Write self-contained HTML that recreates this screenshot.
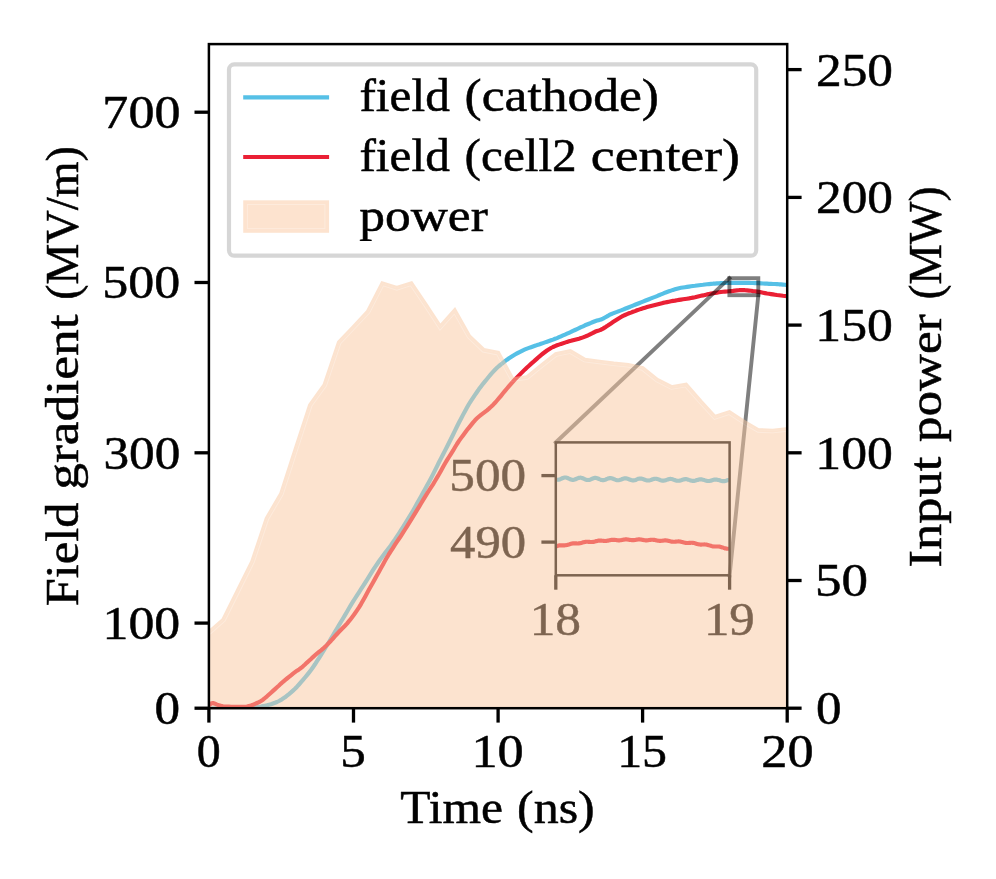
<!DOCTYPE html>
<html><head><meta charset="utf-8"><title>Field gradient and input power</title>
<style>html,body{margin:0;padding:0;background:#fff;}svg{display:block;}</style></head>
<body>
<svg width="996" height="879" viewBox="0 0 996 879" font-family="'Liberation Serif', serif" font-size="46.0" fill="#000">
<rect width="996" height="879" fill="#fff"/>
<defs>
<clipPath id="axclip"><rect x="208.9" y="44.1" width="578.3" height="664.1"/></clipPath>
</defs>
<line x1="194.5" x2="208.9" y1="708.2" y2="708.2" stroke="#000" stroke-width="3.3"/>
<line x1="194.5" x2="208.9" y1="623.1" y2="623.1" stroke="#000" stroke-width="3.3"/>
<line x1="194.5" x2="208.9" y1="452.8" y2="452.8" stroke="#000" stroke-width="3.3"/>
<line x1="194.5" x2="208.9" y1="282.5" y2="282.5" stroke="#000" stroke-width="3.3"/>
<line x1="194.5" x2="208.9" y1="112.2" y2="112.2" stroke="#000" stroke-width="3.3"/>
<line x1="208.9" x2="208.9" y1="708.2" y2="722.6" stroke="#000" stroke-width="3.3"/>
<line x1="353.5" x2="353.5" y1="708.2" y2="722.6" stroke="#000" stroke-width="3.3"/>
<line x1="498.1" x2="498.1" y1="708.2" y2="722.6" stroke="#000" stroke-width="3.3"/>
<line x1="642.6" x2="642.6" y1="708.2" y2="722.6" stroke="#000" stroke-width="3.3"/>
<line x1="787.2" x2="787.2" y1="708.2" y2="722.6" stroke="#000" stroke-width="3.3"/>
<g clip-path="url(#axclip)" fill="none" stroke-linejoin="round" stroke-linecap="butt">
<path d="M209.0,708.6 L211.0,708.6 L213.0,708.6 L215.0,708.6 L217.0,708.6 L219.0,708.6 L221.0,708.6 L223.0,708.6 L225.0,708.6 L227.0,708.6 L229.0,708.6 L231.0,708.6 L233.0,708.6 L235.0,708.5 L237.0,708.5 L239.0,708.4 L241.0,708.3 L243.0,708.2 L245.0,708.1 L247.0,708.0 L249.0,707.9 L251.0,707.7 L253.0,707.6 L255.0,707.3 L257.0,707.1 L259.0,706.8 L261.0,706.5 L263.0,706.1 L265.0,705.7 L267.0,705.3 L269.0,704.7 L271.0,704.2 L273.0,703.5 L275.0,702.8 L277.0,702.0 L279.0,701.0 L281.0,699.9 L283.0,698.6 L285.0,697.3 L287.0,695.7 L289.0,694.1 L291.0,692.4 L293.0,690.6 L295.0,688.8 L297.0,686.7 L299.0,684.5 L301.0,682.2 L303.0,679.9 L305.0,677.5 L307.0,675.1 L309.0,672.6 L311.0,670.0 L313.0,667.2 L315.0,664.3 L317.0,661.2 L319.0,658.1 L321.0,654.8 L323.0,651.6 L325.0,648.3 L327.0,645.2 L329.0,642.0 L331.0,638.7 L333.0,635.3 L335.0,631.9 L337.0,628.5 L339.0,625.2 L341.0,621.8 L343.0,618.5 L345.0,615.1 L347.0,611.7 L349.0,608.3 L351.0,604.9 L353.0,601.7 L355.0,598.5 L357.0,595.4 L359.0,592.3 L361.0,589.2 L363.0,586.1 L365.0,583.0 L367.0,579.8 L369.0,576.6 L371.0,573.4 L373.0,570.2 L375.0,567.1 L377.0,564.2 L379.0,561.3 L381.0,558.4 L383.0,555.7 L385.0,553.0 L387.0,550.4 L389.0,547.9 L391.0,545.2 L393.0,542.3 L395.0,539.4 L397.0,536.3 L399.0,533.3 L401.0,530.2 L403.0,527.1 L405.0,523.9 L407.0,520.7 L409.0,517.4 L411.0,514.1 L413.0,510.7 L415.0,507.2 L417.0,503.6 L419.0,500.0 L421.0,496.4 L423.0,492.8 L425.0,489.2 L427.0,485.6 L429.0,482.0 L431.0,478.3 L433.0,474.4 L435.0,470.4 L437.0,466.3 L439.0,462.3 L441.0,458.4 L443.0,454.5 L445.0,450.6 L447.0,446.7 L449.0,442.7 L451.0,438.7 L453.0,434.7 L455.0,430.6 L457.0,426.5 L459.0,422.5 L461.0,418.7 L463.0,414.9 L465.0,411.2 L467.0,407.6 L469.0,404.0 L471.0,400.8 L473.0,397.8 L475.0,394.9 L477.0,392.0 L479.0,389.1 L481.0,386.4 L483.0,383.8 L485.0,381.4 L487.0,379.0 L489.0,376.5 L491.0,374.1 L493.0,371.9 L495.0,369.8 L497.0,367.8 L499.0,366.0 L501.0,364.4 L503.0,362.8 L505.0,361.2 L507.0,359.7 L509.0,358.3 L511.0,357.0 L513.0,355.7 L515.0,354.5 L517.0,353.4 L519.0,352.3 L521.0,351.3 L523.0,350.3 L525.0,349.4 L527.0,348.6 L529.0,347.9 L531.0,347.2 L533.0,346.5 L535.0,345.8 L537.0,345.1 L539.0,344.5 L541.0,343.8 L543.0,343.1 L545.0,342.4 L547.0,341.7 L549.0,341.0 L551.0,340.3 L553.0,339.6 L555.0,338.8 L557.0,338.1 L559.0,337.2 L561.0,336.3 L563.0,335.4 L565.0,334.6 L567.0,333.7 L569.0,332.8 L571.0,331.9 L573.0,330.9 L575.0,330.0 L577.0,329.1 L579.0,328.2 L581.0,327.2 L583.0,326.3 L585.0,325.3 L587.0,324.5 L589.0,323.7 L591.0,322.9 L593.0,322.0 L595.0,321.2 L597.0,320.5 L599.0,320.1 L601.0,319.5 L603.0,318.6 L605.0,317.5 L607.0,316.4 L609.0,315.2 L611.0,314.2 L613.0,313.4 L615.0,312.6 L617.0,311.9 L619.0,311.1 L621.0,310.4 L623.0,309.6 L625.0,308.8 L627.0,308.0 L629.0,307.2 L631.0,306.4 L633.0,305.6 L635.0,304.8 L637.0,304.0 L639.0,303.2 L641.0,302.4 L643.0,301.6 L645.0,300.8 L647.0,300.0 L649.0,299.2 L651.0,298.4 L653.0,297.6 L655.0,296.9 L657.0,296.1 L659.0,295.2 L661.0,294.4 L663.0,293.6 L665.0,292.7 L667.0,292.0 L669.0,291.3 L671.0,290.6 L673.0,289.9 L675.0,289.3 L677.0,288.7 L679.0,288.2 L681.0,287.8 L683.0,287.5 L685.0,287.2 L687.0,286.9 L689.0,286.6 L691.0,286.3 L693.0,286.0 L695.0,285.8 L697.0,285.5 L699.0,285.2 L701.0,285.0 L703.0,284.8 L705.0,284.5 L707.0,284.3 L709.0,284.1 L711.0,283.9 L713.0,283.7 L715.0,283.6 L717.0,283.4 L719.0,283.3 L721.0,283.2 L723.0,283.1 L725.0,283.0 L727.0,283.0 L729.0,283.0 L731.0,282.9 L733.0,282.9 L735.0,282.9 L737.0,282.9 L739.0,282.9 L741.0,282.9 L743.0,282.9 L745.0,282.9 L747.0,282.9 L749.0,282.9 L751.0,283.0 L753.0,283.0 L755.0,283.1 L757.0,283.1 L759.0,283.2 L761.0,283.3 L763.0,283.5 L765.0,283.6 L767.0,283.7 L769.0,283.8 L771.0,283.9 L773.0,284.0 L775.0,284.0 L777.0,284.1 L779.0,284.3 L781.0,284.4 L783.0,284.6 L785.0,284.8 L787.0,285.1 L787.2,285.1" stroke="#56c0e6" stroke-width="4.17"/>
<path d="M209.0,705.5 L211.0,703.6 L213.0,703.0 L215.0,703.7 L217.0,704.6 L219.0,705.3 L221.0,705.8 L223.0,706.2 L225.0,706.5 L227.0,706.6 L229.0,706.7 L231.0,706.8 L233.0,706.8 L235.0,706.8 L237.0,706.9 L239.0,706.9 L241.0,706.9 L243.0,706.9 L245.0,706.8 L247.0,706.5 L249.0,706.0 L251.0,705.5 L253.0,704.8 L255.0,703.9 L257.0,703.0 L259.0,702.1 L261.0,701.0 L263.0,699.7 L265.0,698.0 L267.0,696.3 L269.0,694.5 L271.0,692.7 L273.0,690.9 L275.0,689.1 L277.0,687.3 L279.0,685.5 L281.0,683.6 L283.0,681.8 L285.0,680.1 L287.0,678.5 L289.0,676.9 L291.0,675.3 L293.0,673.7 L295.0,672.2 L297.0,670.7 L299.0,669.4 L301.0,668.0 L303.0,666.3 L305.0,664.5 L307.0,662.6 L309.0,660.8 L311.0,659.0 L313.0,657.1 L315.0,655.3 L317.0,653.5 L319.0,651.8 L321.0,650.3 L323.0,648.7 L325.0,646.9 L327.0,644.9 L329.0,642.8 L331.0,640.7 L333.0,638.5 L335.0,636.2 L337.0,634.0 L339.0,631.8 L341.0,629.7 L343.0,627.7 L345.0,625.7 L347.0,623.6 L349.0,621.2 L351.0,618.7 L353.0,616.1 L355.0,613.3 L357.0,610.4 L359.0,607.4 L361.0,604.1 L363.0,600.5 L365.0,596.9 L367.0,593.2 L369.0,589.6 L371.0,586.0 L373.0,582.4 L375.0,578.9 L377.0,575.3 L379.0,571.7 L381.0,568.1 L383.0,564.4 L385.0,560.8 L387.0,557.3 L389.0,554.0 L391.0,550.9 L393.0,547.8 L395.0,544.7 L397.0,541.7 L399.0,538.8 L401.0,535.8 L403.0,532.7 L405.0,529.5 L407.0,526.3 L409.0,523.1 L411.0,519.8 L413.0,516.6 L415.0,513.3 L417.0,510.1 L419.0,506.8 L421.0,503.5 L423.0,500.2 L425.0,496.9 L427.0,493.7 L429.0,490.5 L431.0,487.4 L433.0,484.3 L435.0,481.0 L437.0,477.7 L439.0,474.3 L441.0,470.7 L443.0,467.0 L445.0,463.5 L447.0,460.2 L449.0,457.0 L451.0,453.9 L453.0,450.7 L455.0,447.3 L457.0,444.0 L459.0,440.9 L461.0,438.1 L463.0,435.4 L465.0,432.7 L467.0,430.1 L469.0,427.6 L471.0,425.1 L473.0,422.6 L475.0,420.3 L477.0,418.3 L479.0,416.5 L481.0,414.8 L483.0,413.3 L485.0,411.8 L487.0,410.3 L489.0,408.6 L491.0,406.8 L493.0,404.9 L495.0,402.8 L497.0,400.5 L499.0,398.2 L501.0,395.8 L503.0,393.3 L505.0,390.9 L507.0,388.5 L509.0,386.1 L511.0,383.8 L513.0,381.6 L515.0,379.4 L517.0,377.4 L519.0,375.4 L521.0,373.4 L523.0,371.4 L525.0,369.4 L527.0,367.5 L529.0,365.7 L531.0,363.9 L533.0,362.2 L535.0,360.4 L537.0,358.6 L539.0,356.8 L541.0,355.1 L543.0,353.5 L545.0,352.0 L547.0,350.5 L549.0,349.2 L551.0,348.0 L553.0,347.0 L555.0,346.1 L557.0,345.3 L559.0,344.6 L561.0,343.9 L563.0,343.3 L565.0,342.6 L567.0,341.9 L569.0,341.3 L571.0,340.8 L573.0,340.2 L575.0,339.7 L577.0,339.2 L579.0,338.7 L581.0,338.1 L583.0,337.4 L585.0,336.6 L587.0,335.8 L589.0,334.9 L591.0,333.9 L593.0,332.9 L595.0,331.8 L597.0,331.0 L599.0,330.4 L601.0,329.7 L603.0,328.6 L605.0,327.4 L607.0,326.1 L609.0,324.7 L611.0,323.4 L613.0,322.1 L615.0,320.8 L617.0,319.5 L619.0,318.2 L621.0,317.0 L623.0,315.9 L625.0,315.0 L627.0,314.1 L629.0,313.3 L631.0,312.6 L633.0,311.8 L635.0,311.1 L637.0,310.3 L639.0,309.6 L641.0,308.9 L643.0,308.3 L645.0,307.7 L647.0,307.1 L649.0,306.5 L651.0,305.9 L653.0,305.4 L655.0,304.9 L657.0,304.4 L659.0,303.9 L661.0,303.4 L663.0,302.9 L665.0,302.5 L667.0,302.1 L669.0,301.7 L671.0,301.3 L673.0,300.9 L675.0,300.6 L677.0,300.2 L679.0,299.9 L681.0,299.6 L683.0,299.3 L685.0,299.0 L687.0,298.7 L689.0,298.4 L691.0,298.0 L693.0,297.6 L695.0,297.2 L697.0,296.7 L699.0,296.2 L701.0,295.8 L703.0,295.4 L705.0,294.9 L707.0,294.4 L709.0,294.0 L711.0,293.6 L713.0,293.2 L715.0,292.9 L717.0,292.6 L719.0,292.3 L721.0,292.0 L723.0,291.8 L725.0,291.6 L727.0,291.5 L729.0,291.3 L731.0,291.1 L733.0,290.9 L735.0,290.6 L737.0,290.4 L739.0,290.2 L741.0,290.1 L743.0,290.1 L745.0,290.2 L747.0,290.4 L749.0,290.6 L751.0,290.8 L753.0,291.1 L755.0,291.3 L757.0,291.6 L759.0,291.9 L761.0,292.3 L763.0,292.7 L765.0,293.1 L767.0,293.5 L769.0,293.8 L771.0,294.1 L773.0,294.4 L775.0,294.7 L777.0,295.0 L779.0,295.2 L781.0,295.5 L783.0,295.8 L785.0,296.0 L787.0,296.3 L787.2,296.3" stroke="#ea2035" stroke-width="4.17"/>
</g>
<g fill="none" stroke="#000" stroke-opacity="0.5" stroke-width="3.9">
<rect x="729.4" y="278.2" width="28.9" height="17.0"/>
<line x1="729.4" y1="278.2" x2="555.8" y2="442.4" stroke-linecap="square"/>
<line x1="758.3" y1="295.3" x2="729.6" y2="575.3" stroke-linecap="square"/>
</g>
<clipPath id="inclip"><rect x="555.8" y="442.4" width="173.8" height="132.9"/></clipPath>
<g clip-path="url(#inclip)" fill="none" stroke-linejoin="round">
<path d="M555.8,479.36 L556.5,479.59 L557.2,479.73 L558.0,479.76 L558.7,479.68 L559.4,479.51 L560.1,479.25 L560.9,478.93 L561.6,478.58 L562.3,478.24 L563.0,477.94 L563.8,477.69 L564.5,477.54 L565.2,477.48 L565.9,477.53 L566.7,477.69 L567.4,477.93 L568.1,478.24 L568.8,478.58 L569.6,478.94 L570.3,479.28 L571.0,479.56 L571.7,479.76 L572.5,479.87 L573.2,479.88 L573.9,479.78 L574.6,479.59 L575.4,479.33 L576.1,479.01 L576.8,478.68 L577.5,478.35 L578.2,478.07 L579.0,477.85 L579.7,477.72 L580.4,477.69 L581.1,477.76 L581.9,477.93 L582.6,478.18 L583.3,478.49 L584.0,478.83 L584.8,479.17 L585.5,479.49 L586.2,479.75 L586.9,479.92 L587.7,480.01 L588.4,479.99 L589.1,479.88 L589.8,479.68 L590.6,479.41 L591.3,479.10 L592.0,478.78 L592.7,478.47 L593.5,478.21 L594.2,478.02 L594.9,477.91 L595.6,477.91 L596.4,478.00 L597.1,478.18 L597.8,478.43 L598.5,478.74 L599.2,479.07 L600.0,479.40 L600.7,479.69 L601.4,479.93 L602.1,480.08 L602.9,480.14 L603.6,480.10 L604.3,479.98 L605.0,479.77 L605.8,479.50 L606.5,479.19 L607.2,478.88 L607.9,478.60 L608.7,478.36 L609.4,478.19 L610.1,478.11 L610.8,478.12 L611.6,478.23 L612.3,478.43 L613.0,478.68 L613.7,478.99 L614.5,479.31 L615.2,479.62 L615.9,479.89 L616.6,480.10 L617.4,480.23 L618.1,480.27 L618.8,480.21 L619.5,480.07 L620.3,479.85 L621.0,479.59 L621.7,479.29 L622.4,479.00 L623.1,478.73 L623.9,478.51 L624.6,478.37 L625.3,478.31 L626.0,478.35 L626.8,478.47 L627.5,478.67 L628.2,478.93 L628.9,479.23 L629.7,479.54 L630.4,479.83 L631.1,480.08 L631.8,480.27 L632.6,480.37 L633.3,480.39 L634.0,480.32 L634.7,480.16 L635.5,479.95 L636.2,479.68 L636.9,479.39 L637.6,479.11 L638.4,478.87 L639.1,478.67 L639.8,478.55 L640.5,478.52 L641.3,478.57 L642.0,478.71 L642.7,478.92 L643.4,479.18 L644.1,479.47 L644.9,479.76 L645.6,480.04 L646.3,480.27 L647.0,480.43 L647.8,480.51 L648.5,480.51 L649.2,480.42 L649.9,480.26 L650.7,480.04 L651.4,479.78 L652.1,479.50 L652.8,479.24 L653.6,479.01 L654.3,478.84 L655.0,478.74 L655.7,478.73 L656.5,478.80 L657.2,478.95 L657.9,479.16 L658.6,479.42 L659.4,479.70 L660.1,479.98 L660.8,480.24 L661.5,480.44 L662.3,480.58 L663.0,480.65 L663.7,480.62 L664.4,480.52 L665.1,480.36 L665.9,480.13 L666.6,479.88 L667.3,479.62 L668.0,479.37 L668.8,479.16 L669.5,479.02 L670.2,478.94 L670.9,478.95 L671.7,479.03 L672.4,479.19 L673.1,479.40 L673.8,479.66 L674.6,479.93 L675.3,480.19 L676.0,480.43 L676.7,480.61 L677.5,480.73 L678.2,480.77 L678.9,480.74 L679.6,480.63 L680.4,480.45 L681.1,480.23 L681.8,479.99 L682.5,479.74 L683.3,479.51 L684.0,479.32 L684.7,479.20 L685.4,479.14 L686.1,479.16 L686.9,479.26 L687.6,479.42 L688.3,479.64 L689.0,479.89 L689.8,480.15 L690.5,480.40 L691.2,480.61 L691.9,480.78 L692.7,480.88 L693.4,480.90 L694.1,480.85 L694.8,480.73 L695.6,480.55 L696.3,480.33 L697.0,480.10 L697.7,479.86 L698.5,479.65 L699.2,479.49 L699.9,479.38 L700.6,479.35 L701.4,479.38 L702.1,479.49 L702.8,479.66 L703.5,479.88 L704.3,480.12 L705.0,480.36 L705.7,480.60 L706.4,480.79 L707.2,480.94 L707.9,481.01 L708.6,481.02 L709.3,480.96 L710.0,480.83 L710.8,480.65 L711.5,480.44 L712.2,480.22 L712.9,480.00 L713.7,479.81 L714.4,479.66 L715.1,479.57 L715.8,479.56 L716.6,479.61 L717.3,479.72 L718.0,479.90 L718.7,480.11 L719.5,480.34 L720.2,480.57 L720.9,480.79 L721.6,480.97 L722.4,481.09 L723.1,481.15 L723.8,481.14 L724.5,481.07 L725.3,480.94 L726.0,480.76 L726.7,480.55 L727.4,480.34 L728.2,480.14 L728.9,479.96 L729.6,479.84" stroke="#56c0e6" stroke-width="4.17"/>
<path d="M555.8,546.44 L556.5,546.18 L557.2,545.94 L558.0,545.72 L558.7,545.55 L559.4,545.43 L560.1,545.35 L560.9,545.31 L561.6,545.30 L562.3,545.32 L563.0,545.34 L563.8,545.34 L564.5,545.33 L565.2,545.28 L565.9,545.18 L566.7,545.04 L567.4,544.86 L568.1,544.65 L568.8,544.42 L569.6,544.18 L570.3,543.95 L571.0,543.74 L571.7,543.57 L572.5,543.44 L573.2,543.36 L573.9,543.33 L574.6,543.33 L575.4,543.36 L576.1,543.40 L576.8,543.44 L577.5,543.46 L578.2,543.45 L579.0,543.40 L579.7,543.30 L580.4,543.16 L581.1,542.98 L581.9,542.78 L582.6,542.56 L583.3,542.35 L584.0,542.15 L584.8,541.99 L585.5,541.86 L586.2,541.78 L586.9,541.75 L587.7,541.76 L588.4,541.80 L589.1,541.86 L589.8,541.92 L590.6,541.97 L591.3,542.00 L592.0,541.99 L592.7,541.94 L593.5,541.84 L594.2,541.70 L594.9,541.53 L595.6,541.34 L596.4,541.14 L597.1,540.96 L597.8,540.80 L598.5,540.68 L599.2,540.60 L600.0,540.57 L600.7,540.58 L601.4,540.63 L602.1,540.70 L602.9,540.79 L603.6,540.87 L604.3,540.93 L605.0,540.96 L605.8,540.95 L606.5,540.89 L607.2,540.80 L607.9,540.66 L608.7,540.50 L609.4,540.33 L610.1,540.16 L610.8,540.01 L611.6,539.89 L612.3,539.81 L613.0,539.78 L613.7,539.80 L614.5,539.85 L615.2,539.94 L615.9,540.05 L616.6,540.15 L617.4,540.25 L618.1,540.31 L618.8,540.34 L619.5,540.33 L620.3,540.27 L621.0,540.18 L621.7,540.05 L622.4,539.90 L623.1,539.75 L623.9,539.61 L624.6,539.50 L625.3,539.43 L626.0,539.40 L626.8,539.41 L627.5,539.47 L628.2,539.57 L628.9,539.69 L629.7,539.82 L630.4,539.94 L631.1,540.05 L631.8,540.12 L632.6,540.15 L633.3,540.13 L634.0,540.07 L634.7,539.98 L635.5,539.86 L636.2,539.73 L636.9,539.61 L637.6,539.50 L638.4,539.43 L639.1,539.40 L639.8,539.41 L640.5,539.47 L641.3,539.58 L642.0,539.71 L642.7,539.85 L643.4,540.00 L644.1,540.13 L644.9,540.24 L645.6,540.31 L646.3,540.33 L647.0,540.31 L647.8,540.25 L648.5,540.16 L649.2,540.05 L649.9,539.94 L650.7,539.85 L651.4,539.78 L652.1,539.74 L652.8,539.75 L653.6,539.81 L654.3,539.92 L655.0,540.05 L655.7,540.21 L656.5,540.38 L657.2,540.54 L657.9,540.68 L658.6,540.78 L659.4,540.85 L660.1,540.87 L660.8,540.84 L661.5,540.78 L662.3,540.70 L663.0,540.61 L663.7,540.52 L664.4,540.45 L665.1,540.42 L665.9,540.43 L666.6,540.49 L667.3,540.59 L668.0,540.73 L668.8,540.90 L669.5,541.08 L670.2,541.27 L670.9,541.44 L671.7,541.58 L672.4,541.68 L673.1,541.74 L673.8,541.75 L674.6,541.72 L675.3,541.67 L676.0,541.60 L676.7,541.52 L677.5,541.46 L678.2,541.43 L678.9,541.44 L679.6,541.49 L680.4,541.59 L681.1,541.73 L681.8,541.91 L682.5,542.11 L683.3,542.31 L684.0,542.51 L684.7,542.68 L685.4,542.82 L686.1,542.92 L686.9,542.97 L687.6,542.98 L688.3,542.96 L689.0,542.91 L689.8,542.85 L690.5,542.80 L691.2,542.78 L691.9,542.78 L692.7,542.83 L693.4,542.93 L694.1,543.07 L694.8,543.25 L695.6,543.46 L696.3,543.68 L697.0,543.90 L697.7,544.11 L698.5,544.28 L699.2,544.42 L699.9,544.51 L700.6,544.56 L701.4,544.56 L702.1,544.54 L702.8,544.51 L703.5,544.47 L704.3,544.45 L705.0,544.46 L705.7,544.51 L706.4,544.60 L707.2,544.74 L707.9,544.92 L708.6,545.14 L709.3,545.38 L710.0,545.62 L710.8,545.85 L711.5,546.06 L712.2,546.23 L712.9,546.36 L713.7,546.45 L714.4,546.49 L715.1,546.50 L715.8,546.49 L716.6,546.47 L717.3,546.46 L718.0,546.47 L718.7,546.52 L719.5,546.61 L720.2,546.75 L720.9,546.93 L721.6,547.15 L722.4,547.39 L723.1,547.65 L723.8,547.91 L724.5,548.15 L725.3,548.36 L726.0,548.53 L726.7,548.65 L727.4,548.73 L728.2,548.78 L728.9,548.79 L729.6,548.79" stroke="#ea2035" stroke-width="4.17"/>
</g>
<rect x="555.8" y="442.4" width="173.8" height="132.9" fill="none" stroke="#000" stroke-width="2.5"/>
<line x1="541.4" x2="555.8" y1="542.1" y2="542.1" stroke="#000" stroke-width="3.3"/>
<line x1="541.4" x2="555.8" y1="475.6" y2="475.6" stroke="#000" stroke-width="3.3"/>
<line x1="555.8" x2="555.8" y1="575.3" y2="589.7" stroke="#000" stroke-width="3.3"/>
<line x1="729.6" x2="729.6" y1="575.3" y2="589.7" stroke="#000" stroke-width="3.3"/>
<g opacity="0.999"><text x="449.38" y="491.30" textLength="76.84" lengthAdjust="spacingAndGlyphs" stroke="#000" stroke-width="0.5" style="font-variant-ligatures:none">500</text>
<text x="450.03" y="557.90" textLength="76.13" lengthAdjust="spacingAndGlyphs" stroke="#000" stroke-width="0.5" style="font-variant-ligatures:none">490</text>
<text x="529.68" y="635.10" textLength="51.40" lengthAdjust="spacingAndGlyphs" stroke="#000" stroke-width="0.5" style="font-variant-ligatures:none">18</text>
<text x="703.93" y="635.10" textLength="50.88" lengthAdjust="spacingAndGlyphs" stroke="#000" stroke-width="0.5" style="font-variant-ligatures:none">19</text></g>
<clipPath id="polyclip"><path d="M208.9,632.5 L223.4,619.7 L237.8,590.8 L252.3,561.6 L266.7,518.5 L281.2,493.9 L295.6,449.5 L310.1,405.1 L324.6,385.0 L339.0,342.4 L353.5,327.1 L367.9,311.8 L382.4,283.4 L396.8,288.0 L411.3,283.4 L425.8,304.9 L440.2,326.8 L454.7,310.6 L469.1,336.3 L483.6,350.1 L498.1,352.9 L512.5,379.3 L527.0,377.3 L541.4,365.6 L555.9,354.3 L570.3,351.3 L584.8,359.8 L599.3,361.7 L613.7,363.6 L628.2,365.1 L642.6,368.2 L657.1,379.8 L671.5,387.2 L686.0,384.8 L700.5,401.4 L714.9,417.1 L729.4,412.3 L743.8,421.8 L758.3,430.2 L772.7,430.8 L787.2,429.2 L787.2,708.2 L208.9,708.2 Z"/></clipPath>
<g clip-path="url(#axclip)" opacity="0.5">
<path d="M208.9,632.5 L223.4,619.7 L237.8,590.8 L252.3,561.6 L266.7,518.5 L281.2,493.9 L295.6,449.5 L310.1,405.1 L324.6,385.0 L339.0,342.4 L353.5,327.1 L367.9,311.8 L382.4,283.4 L396.8,288.0 L411.3,283.4 L425.8,304.9 L440.2,326.8 L454.7,310.6 L469.1,336.3 L483.6,350.1 L498.1,352.9 L512.5,379.3 L527.0,377.3 L541.4,365.6 L555.9,354.3 L570.3,351.3 L584.8,359.8 L599.3,361.7 L613.7,363.6 L628.2,365.1 L642.6,368.2 L657.1,379.8 L671.5,387.2 L686.0,384.8 L700.5,401.4 L714.9,417.1 L729.4,412.3 L743.8,421.8 L758.3,430.2 L772.7,430.8 L787.2,429.2 L787.2,708.2 L208.9,708.2 Z" fill="#fac8a0" stroke="#fac8a0" stroke-width="4.17" stroke-linejoin="miter"/>
<g clip-path="url(#polyclip)" fill="none" stroke-linejoin="miter">
<path d="M208.9,632.5 L223.4,619.7 L237.8,590.8 L252.3,561.6 L266.7,518.5 L281.2,493.9 L295.6,449.5 L310.1,405.1 L324.6,385.0 L339.0,342.4 L353.5,327.1 L367.9,311.8 L382.4,283.4 L396.8,288.0 L411.3,283.4 L425.8,304.9 L440.2,326.8 L454.7,310.6 L469.1,336.3 L483.6,350.1 L498.1,352.9 L512.5,379.3 L527.0,377.3 L541.4,365.6 L555.9,354.3 L570.3,351.3 L584.8,359.8 L599.3,361.7 L613.7,363.6 L628.2,365.1 L642.6,368.2 L657.1,379.8 L671.5,387.2 L686.0,384.8 L700.5,401.4 L714.9,417.1 L729.4,412.3 L743.8,421.8 L758.3,430.2 L772.7,430.8 L787.2,429.2" stroke="#fcd8bc" stroke-width="5.07"/>
<path d="M208.9,632.5 L223.4,619.7 L237.8,590.8 L252.3,561.6 L266.7,518.5 L281.2,493.9 L295.6,449.5 L310.1,405.1 L324.6,385.0 L339.0,342.4 L353.5,327.1 L367.9,311.8 L382.4,283.4 L396.8,288.0 L411.3,283.4 L425.8,304.9 L440.2,326.8 L454.7,310.6 L469.1,336.3 L483.6,350.1 L498.1,352.9 L512.5,379.3 L527.0,377.3 L541.4,365.6 L555.9,354.3 L570.3,351.3 L584.8,359.8 L599.3,361.7 L613.7,363.6 L628.2,365.1 L642.6,368.2 L657.1,379.8 L671.5,387.2 L686.0,384.8 L700.5,401.4 L714.9,417.1 L729.4,412.3 L743.8,421.8 L758.3,430.2 L772.7,430.8 L787.2,429.2" stroke="#fac8a0" stroke-width="3.27"/>
</g>
</g>
<line x1="787.2" x2="801.6" y1="708.2" y2="708.2" stroke="#000" stroke-width="3.3"/>
<line x1="787.2" x2="801.6" y1="580.5" y2="580.5" stroke="#000" stroke-width="3.3"/>
<line x1="787.2" x2="801.6" y1="452.8" y2="452.8" stroke="#000" stroke-width="3.3"/>
<line x1="787.2" x2="801.6" y1="325.1" y2="325.1" stroke="#000" stroke-width="3.3"/>
<line x1="787.2" x2="801.6" y1="197.4" y2="197.4" stroke="#000" stroke-width="3.3"/>
<line x1="787.2" x2="801.6" y1="69.6" y2="69.6" stroke="#000" stroke-width="3.3"/>
<rect x="208.9" y="44.1" width="578.3" height="664.1" fill="none" stroke="#000" stroke-width="2.5"/>
<g opacity="0.999"><text x="102.39" y="128.21" textLength="78.01" lengthAdjust="spacingAndGlyphs" stroke="#000" stroke-width="0.5" style="font-variant-ligatures:none">700</text>
<text x="102.39" y="298.49" textLength="77.99" lengthAdjust="spacingAndGlyphs" stroke="#000" stroke-width="0.5" style="font-variant-ligatures:none">500</text>
<text x="103.42" y="468.78" textLength="76.96" lengthAdjust="spacingAndGlyphs" stroke="#000" stroke-width="0.5" style="font-variant-ligatures:none">300</text>
<text x="102.54" y="639.06" textLength="77.70" lengthAdjust="spacingAndGlyphs" stroke="#000" stroke-width="0.5" style="font-variant-ligatures:none">100</text>
<text x="154.58" y="724.20" textLength="25.59" lengthAdjust="spacingAndGlyphs" stroke="#000" stroke-width="0.5" style="font-variant-ligatures:none">0</text>
<text x="815.99" y="85.64" textLength="77.02" lengthAdjust="spacingAndGlyphs" stroke="#000" stroke-width="0.5" style="font-variant-ligatures:none">250</text>
<text x="815.99" y="213.35" textLength="77.02" lengthAdjust="spacingAndGlyphs" stroke="#000" stroke-width="0.5" style="font-variant-ligatures:none">200</text>
<text x="815.29" y="341.07" textLength="77.56" lengthAdjust="spacingAndGlyphs" stroke="#000" stroke-width="0.5" style="font-variant-ligatures:none">150</text>
<text x="815.29" y="468.78" textLength="77.56" lengthAdjust="spacingAndGlyphs" stroke="#000" stroke-width="0.5" style="font-variant-ligatures:none">100</text>
<text x="814.99" y="596.49" textLength="52.99" lengthAdjust="spacingAndGlyphs" stroke="#000" stroke-width="0.5" style="font-variant-ligatures:none">50</text>
<text x="816.08" y="724.20" textLength="25.54" lengthAdjust="spacingAndGlyphs" stroke="#000" stroke-width="0.5" style="font-variant-ligatures:none">0</text>
<text x="196.76" y="767.40" textLength="23.98" lengthAdjust="spacingAndGlyphs" stroke="#000" stroke-width="0.5" style="font-variant-ligatures:none">0</text>
<text x="340.25" y="767.40" textLength="25.54" lengthAdjust="spacingAndGlyphs" stroke="#000" stroke-width="0.5" style="font-variant-ligatures:none">5</text>
<text x="471.42" y="767.40" textLength="52.29" lengthAdjust="spacingAndGlyphs" stroke="#000" stroke-width="0.5" style="font-variant-ligatures:none">10</text>
<text x="617.15" y="767.40" textLength="49.90" lengthAdjust="spacingAndGlyphs" stroke="#000" stroke-width="0.5" style="font-variant-ligatures:none">15</text>
<text x="761.38" y="767.40" textLength="52.23" lengthAdjust="spacingAndGlyphs" stroke="#000" stroke-width="0.5" style="font-variant-ligatures:none">20</text>
<text x="400.19" y="823.30" textLength="102.78" lengthAdjust="spacingAndGlyphs" stroke="#000" stroke-width="0.5" style="font-variant-ligatures:none" font-size="45.5">Time</text>
<text x="517.04" y="823.30" textLength="77.74" lengthAdjust="spacingAndGlyphs" stroke="#000" stroke-width="0.5" style="font-variant-ligatures:none" font-size="45.5">(ns)</text>
<text transform="translate(77.50,606.18) rotate(-90)" textLength="103.59" lengthAdjust="spacingAndGlyphs" stroke="#000" stroke-width="0.5" style="font-variant-ligatures:none" font-size="45.5">Field</text>
<text transform="translate(77.50,489.83) rotate(-90)" textLength="175.45" lengthAdjust="spacingAndGlyphs" stroke="#000" stroke-width="0.5" style="font-variant-ligatures:none" font-size="45.5">gradient</text>
<text transform="translate(77.50,299.81) rotate(-90)" textLength="153.59" lengthAdjust="spacingAndGlyphs" stroke="#000" stroke-width="0.5" style="font-variant-ligatures:none" font-size="45.5">(MV/m)</text>
<text transform="translate(940.50,567.41) rotate(-90)" textLength="110.77" lengthAdjust="spacingAndGlyphs" stroke="#000" stroke-width="0.5" style="font-variant-ligatures:none" font-size="45.5">Input</text>
<text transform="translate(940.50,441.99) rotate(-90)" textLength="127.66" lengthAdjust="spacingAndGlyphs" stroke="#000" stroke-width="0.5" style="font-variant-ligatures:none" font-size="45.5">power</text>
<text transform="translate(940.50,299.60) rotate(-90)" textLength="113.07" lengthAdjust="spacingAndGlyphs" stroke="#000" stroke-width="0.5" style="font-variant-ligatures:none" font-size="45.5">(MW)</text></g>
<rect x="229.0" y="64.4" width="527.2" height="191.3" rx="5.2" ry="5.2" fill="#fff" fill-opacity="0.8" stroke="#ccc" stroke-opacity="0.8" stroke-width="4.17"/>
<line x1="243.2" x2="329.1" y1="97.3" y2="97.3" stroke="#56c0e6" stroke-width="4.17"/>
<line x1="243.2" x2="329.1" y1="157.0" y2="157.0" stroke="#ea2035" stroke-width="4.17"/>
<g opacity="0.5"><rect x="245.3" y="202.4" width="81.7" height="28.3" fill="#fac8a0" stroke="#fac8a0" stroke-width="4.17"/><rect x="247.4" y="204.5" width="77.5" height="24.1" fill="none" stroke="#fcd8bc" stroke-width="0.9"/></g>
<g opacity="0.999"><text x="359.44" y="111.10" textLength="90.35" lengthAdjust="spacingAndGlyphs" stroke="#000" stroke-width="0.5" style="font-variant-ligatures:none" font-size="45.5">field</text>
<text x="464.62" y="111.10" textLength="194.38" lengthAdjust="spacingAndGlyphs" stroke="#000" stroke-width="0.5" style="font-variant-ligatures:none" font-size="45.5">(cathode)</text>
<text x="359.44" y="170.80" textLength="90.35" lengthAdjust="spacingAndGlyphs" stroke="#000" stroke-width="0.5" style="font-variant-ligatures:none" font-size="45.5">field</text>
<text x="464.62" y="170.80" textLength="112.15" lengthAdjust="spacingAndGlyphs" stroke="#000" stroke-width="0.5" style="font-variant-ligatures:none" font-size="45.5">(cell2</text>
<text x="590.80" y="170.80" textLength="149.18" lengthAdjust="spacingAndGlyphs" stroke="#000" stroke-width="0.5" style="font-variant-ligatures:none" font-size="45.5">center)</text>
<text x="359.22" y="230.50" textLength="128.60" lengthAdjust="spacingAndGlyphs" stroke="#000" stroke-width="0.5" style="font-variant-ligatures:none" font-size="45.5">power</text></g>
</svg>
</body></html>
